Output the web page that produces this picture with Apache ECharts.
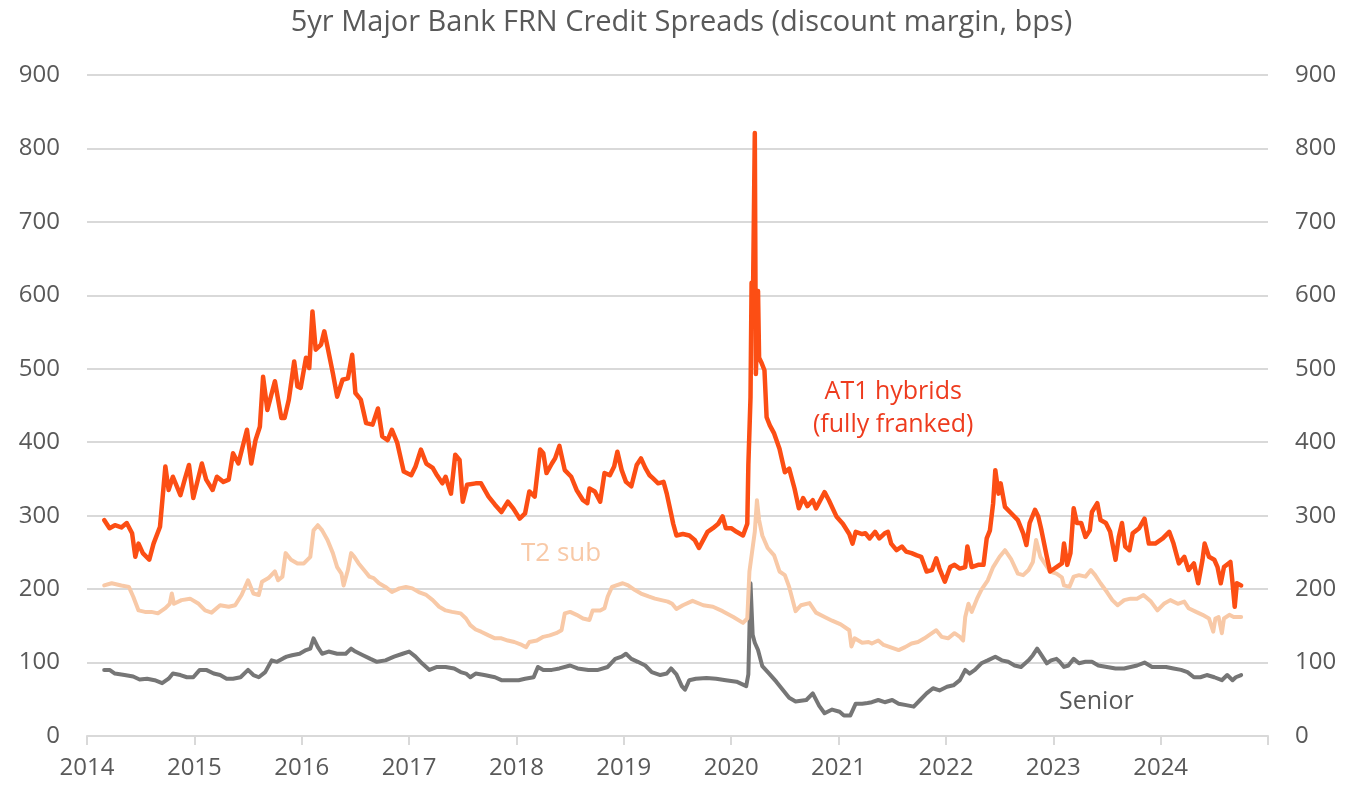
<!DOCTYPE html>
<html>
<head>
<meta charset="utf-8">
<title>5yr Major Bank FRN Credit Spreads</title>
<script src="https://cdn.jsdelivr.net/npm/echarts@6/dist/echarts.min.js"></script>
<style>
  html, body { margin: 0; padding: 0; background: #fff; }
  #chart { width: 1363px; height: 789px; }
</style>
</head>
<body>
<div id="chart"></div>
<script>
// x values are decimal years, y values are bps
const yearTicks = [2014, 2015, 2016, 2017, 2018, 2019, 2020, 2021, 2022, 2023, 2024]

const at1Hybrids = [
  [2014.16, 294], [2014.21, 283], [2014.26, 287], [2014.32, 284], [2014.37, 290], [2014.42, 276], [2014.45, 244], [2014.48, 262],
  [2014.52, 249], [2014.58, 240], [2014.62, 262], [2014.68, 285], [2014.73, 367], [2014.76, 335], [2014.80, 353], [2014.87, 328],
  [2014.91, 349], [2014.95, 369], [2014.99, 324], [2015.07, 371], [2015.11, 349], [2015.17, 335], [2015.21, 353], [2015.27, 346],
  [2015.32, 349], [2015.36, 385], [2015.41, 371], [2015.49, 417], [2015.53, 371], [2015.57, 403], [2015.61, 421], [2015.64, 489],
  [2015.68, 444], [2015.75, 483], [2015.81, 433], [2015.84, 433], [2015.88, 458], [2015.93, 510], [2015.96, 476], [2015.99, 474],
  [2016.04, 515], [2016.07, 501], [2016.10, 578], [2016.13, 526], [2016.18, 533], [2016.21, 551], [2016.24, 530], [2016.29, 494],
  [2016.33, 462], [2016.38, 485], [2016.43, 487], [2016.47, 519], [2016.50, 467], [2016.55, 458], [2016.60, 426], [2016.66, 424],
  [2016.71, 446], [2016.75, 408], [2016.80, 403], [2016.84, 417], [2016.89, 399], [2016.95, 360], [2017.02, 355], [2017.06, 367],
  [2017.11, 390], [2017.16, 371], [2017.22, 365], [2017.26, 355], [2017.31, 344], [2017.34, 353], [2017.39, 330], [2017.43, 383],
  [2017.47, 376], [2017.50, 319], [2017.54, 342], [2017.62, 344], [2017.67, 344], [2017.74, 326], [2017.80, 315], [2017.86, 305],
  [2017.92, 319], [2017.97, 310], [2018.03, 296], [2018.08, 303], [2018.12, 333], [2018.17, 326], [2018.22, 390], [2018.25, 385],
  [2018.28, 358], [2018.33, 371], [2018.36, 378], [2018.40, 395], [2018.45, 362], [2018.51, 353], [2018.56, 335], [2018.62, 321],
  [2018.66, 317], [2018.68, 337], [2018.73, 333], [2018.78, 319], [2018.82, 358], [2018.87, 355], [2018.91, 367], [2018.94, 387],
  [2018.98, 362], [2019.02, 346], [2019.07, 340], [2019.12, 369], [2019.16, 378], [2019.20, 365], [2019.24, 355], [2019.27, 351],
  [2019.32, 344], [2019.37, 346], [2019.40, 330], [2019.44, 303], [2019.46, 289], [2019.49, 273], [2019.55, 275], [2019.61, 273],
  [2019.66, 267], [2019.70, 256], [2019.74, 267], [2019.78, 278], [2019.83, 283], [2019.88, 289], [2019.92, 299], [2019.95, 283],
  [2020.00, 283], [2020.05, 278], [2020.11, 273], [2020.15, 289], [2020.16, 369], [2020.18, 461], [2020.19, 617], [2020.20, 557],
  [2020.22, 821], [2020.23, 493], [2020.25, 606], [2020.26, 515], [2020.28, 509], [2020.31, 498], [2020.33, 434], [2020.36, 423],
  [2020.40, 412], [2020.45, 391], [2020.50, 359], [2020.54, 364], [2020.59, 337], [2020.63, 310], [2020.67, 324], [2020.71, 313],
  [2020.76, 321], [2020.79, 310], [2020.87, 332], [2020.91, 321], [2020.98, 299], [2021.04, 289], [2021.10, 275], [2021.13, 262],
  [2021.16, 278], [2021.22, 275], [2021.25, 276], [2021.29, 269], [2021.34, 278], [2021.38, 269], [2021.43, 276], [2021.46, 278],
  [2021.49, 262], [2021.54, 253], [2021.59, 258], [2021.63, 251], [2021.68, 249], [2021.73, 246], [2021.77, 244], [2021.82, 224],
  [2021.87, 226], [2021.91, 242], [2021.94, 228], [2021.99, 210], [2022.04, 230], [2022.08, 233], [2022.13, 228], [2022.18, 230],
  [2022.20, 258], [2022.24, 230], [2022.30, 233], [2022.35, 233], [2022.38, 269], [2022.41, 280], [2022.44, 317], [2022.46, 362],
  [2022.49, 330], [2022.51, 344], [2022.55, 312], [2022.61, 303], [2022.67, 294], [2022.72, 276], [2022.75, 260], [2022.78, 290],
  [2022.83, 308], [2022.86, 299], [2022.89, 280], [2022.94, 244], [2022.97, 224], [2023.03, 230], [2023.08, 235], [2023.10, 262],
  [2023.13, 233], [2023.16, 249], [2023.19, 310], [2023.22, 290], [2023.26, 290], [2023.30, 271], [2023.34, 280], [2023.36, 305],
  [2023.41, 317], [2023.44, 294], [2023.49, 290], [2023.53, 278], [2023.58, 240], [2023.61, 271], [2023.64, 290], [2023.67, 258],
  [2023.71, 253], [2023.74, 276], [2023.80, 283], [2023.85, 296], [2023.89, 262], [2023.95, 262], [2024.02, 269], [2024.08, 278],
  [2024.12, 262], [2024.17, 235], [2024.22, 244], [2024.26, 226], [2024.31, 235], [2024.35, 208], [2024.39, 240], [2024.41, 262],
  [2024.45, 244], [2024.50, 240], [2024.53, 230], [2024.56, 208], [2024.59, 230], [2024.65, 237], [2024.67, 208], [2024.69, 176],
  [2024.71, 208], [2024.75, 205]
]

const t2Sub = [
  [2014.16, 205], [2014.23, 208], [2014.32, 205], [2014.39, 203], [2014.43, 190], [2014.48, 171], [2014.54, 169], [2014.60, 169],
  [2014.66, 167], [2014.73, 174], [2014.77, 180], [2014.79, 194], [2014.81, 180], [2014.88, 185], [2014.96, 187], [2015.04, 180],
  [2015.10, 171], [2015.16, 168], [2015.24, 178], [2015.32, 176], [2015.38, 178], [2015.44, 192], [2015.50, 212], [2015.55, 194],
  [2015.60, 192], [2015.63, 210], [2015.69, 215], [2015.75, 224], [2015.78, 212], [2015.82, 217], [2015.85, 249], [2015.90, 240],
  [2015.96, 235], [2016.02, 235], [2016.08, 244], [2016.11, 280], [2016.15, 287], [2016.19, 280], [2016.24, 267], [2016.29, 249],
  [2016.33, 230], [2016.37, 221], [2016.39, 205], [2016.43, 226], [2016.46, 249], [2016.49, 244], [2016.53, 235], [2016.58, 226],
  [2016.63, 217], [2016.67, 215], [2016.72, 208], [2016.78, 203], [2016.84, 196], [2016.91, 201], [2016.97, 203], [2017.03, 201],
  [2017.09, 196], [2017.16, 192], [2017.22, 185], [2017.28, 176], [2017.34, 171], [2017.40, 169], [2017.48, 167], [2017.53, 160],
  [2017.57, 151], [2017.62, 145], [2017.67, 142], [2017.74, 137], [2017.80, 133], [2017.86, 133], [2017.92, 130], [2017.98, 128],
  [2018.05, 124], [2018.09, 121], [2018.12, 128], [2018.19, 130], [2018.25, 135], [2018.31, 137], [2018.37, 140], [2018.42, 144],
  [2018.45, 167], [2018.50, 169], [2018.56, 165], [2018.62, 160], [2018.68, 158], [2018.71, 171], [2018.78, 171], [2018.82, 174],
  [2018.85, 190], [2018.89, 203], [2018.93, 205], [2018.99, 208], [2019.04, 205], [2019.10, 199], [2019.16, 194], [2019.23, 190],
  [2019.29, 187], [2019.35, 185], [2019.41, 183], [2019.45, 180], [2019.49, 173], [2019.55, 178], [2019.64, 184], [2019.74, 178],
  [2019.83, 176], [2019.92, 170], [2020.02, 162], [2020.11, 154], [2020.15, 160], [2020.17, 224], [2020.22, 278], [2020.24, 321],
  [2020.26, 294], [2020.29, 273], [2020.34, 256], [2020.40, 246], [2020.45, 224], [2020.50, 219], [2020.54, 203], [2020.60, 170],
  [2020.65, 178], [2020.73, 181], [2020.79, 168], [2020.87, 162], [2020.94, 157], [2021.02, 152], [2021.10, 144], [2021.12, 122],
  [2021.15, 133], [2021.22, 127], [2021.28, 128], [2021.31, 126], [2021.37, 130], [2021.42, 124], [2021.48, 121], [2021.56, 117],
  [2021.62, 121], [2021.68, 126], [2021.74, 128], [2021.80, 133], [2021.87, 140], [2021.91, 144], [2021.96, 135], [2022.02, 133],
  [2022.08, 140], [2022.13, 135], [2022.16, 130], [2022.18, 162], [2022.21, 180], [2022.24, 169], [2022.29, 187], [2022.33, 199],
  [2022.39, 212], [2022.44, 230], [2022.50, 244], [2022.55, 253], [2022.61, 240], [2022.67, 221], [2022.72, 219], [2022.77, 226],
  [2022.81, 237], [2022.84, 267], [2022.88, 244], [2022.92, 235], [2022.97, 224], [2023.03, 221], [2023.08, 216], [2023.10, 205],
  [2023.15, 203], [2023.19, 217], [2023.24, 219], [2023.30, 217], [2023.35, 226], [2023.39, 219], [2023.44, 208], [2023.50, 196],
  [2023.55, 185], [2023.60, 178], [2023.66, 185], [2023.72, 187], [2023.78, 187], [2023.84, 192], [2023.91, 183], [2023.97, 171],
  [2024.03, 180], [2024.09, 185], [2024.16, 180], [2024.22, 183], [2024.26, 174], [2024.33, 169], [2024.39, 165], [2024.45, 160],
  [2024.49, 142], [2024.51, 160], [2024.54, 162], [2024.57, 140], [2024.59, 160], [2024.64, 165], [2024.68, 162], [2024.75, 162]
]

const senior = [
  [2014.16, 90], [2014.21, 90], [2014.26, 85], [2014.35, 83], [2014.43, 81], [2014.49, 77], [2014.56, 78], [2014.63, 76],
  [2014.70, 72], [2014.76, 78], [2014.80, 85], [2014.87, 83], [2014.93, 80], [2014.99, 80], [2015.05, 90], [2015.11, 90],
  [2015.18, 85], [2015.24, 83], [2015.30, 78], [2015.36, 78], [2015.43, 80], [2015.50, 90], [2015.55, 83], [2015.60, 80],
  [2015.66, 87], [2015.72, 103], [2015.77, 101], [2015.83, 106], [2015.86, 108], [2015.91, 110], [2015.98, 112], [2016.04, 117],
  [2016.08, 119], [2016.11, 133], [2016.15, 121], [2016.19, 112], [2016.25, 115], [2016.33, 112], [2016.41, 112], [2016.46, 119],
  [2016.50, 115], [2016.57, 110], [2016.64, 105], [2016.70, 101], [2016.78, 103], [2016.86, 108], [2016.94, 112], [2017.00, 115],
  [2017.06, 108], [2017.12, 99], [2017.19, 90], [2017.26, 94], [2017.34, 94], [2017.42, 92], [2017.48, 87], [2017.53, 85],
  [2017.57, 80], [2017.62, 85], [2017.70, 83], [2017.80, 80], [2017.86, 76], [2017.92, 76], [2018.02, 76], [2018.08, 78],
  [2018.16, 80], [2018.20, 94], [2018.25, 90], [2018.33, 90], [2018.40, 92], [2018.50, 96], [2018.57, 92], [2018.67, 90],
  [2018.76, 90], [2018.85, 94], [2018.92, 105], [2018.98, 108], [2019.02, 112], [2019.07, 105], [2019.13, 101], [2019.20, 96],
  [2019.26, 87], [2019.34, 83], [2019.40, 85], [2019.44, 92], [2019.49, 84], [2019.54, 68], [2019.57, 63], [2019.61, 76],
  [2019.67, 78], [2019.77, 79], [2019.86, 78], [2019.95, 76], [2020.05, 74], [2020.14, 68], [2020.16, 84], [2020.18, 208],
  [2020.20, 138], [2020.22, 127], [2020.25, 117], [2020.29, 95], [2020.36, 84], [2020.42, 74], [2020.48, 63], [2020.54, 52],
  [2020.60, 47], [2020.70, 49], [2020.76, 58], [2020.82, 41], [2020.87, 31], [2020.94, 36], [2021.01, 33], [2021.05, 28],
  [2021.11, 28], [2021.16, 44], [2021.22, 44], [2021.27, 45], [2021.31, 46], [2021.37, 49], [2021.43, 46], [2021.50, 49],
  [2021.56, 44], [2021.63, 42], [2021.70, 40], [2021.76, 49], [2021.82, 58], [2021.88, 65], [2021.94, 62], [2022.01, 67],
  [2022.07, 69], [2022.13, 76], [2022.18, 90], [2022.22, 85], [2022.27, 90], [2022.33, 99], [2022.39, 103], [2022.46, 108],
  [2022.52, 103], [2022.58, 101], [2022.64, 96], [2022.70, 94], [2022.77, 103], [2022.81, 110], [2022.85, 119], [2022.89, 110],
  [2022.94, 99], [2022.98, 103], [2023.03, 105], [2023.06, 101], [2023.10, 94], [2023.14, 96], [2023.19, 105], [2023.24, 99],
  [2023.30, 101], [2023.36, 101], [2023.42, 96], [2023.50, 94], [2023.58, 92], [2023.66, 92], [2023.72, 94], [2023.78, 96],
  [2023.85, 100], [2023.92, 94], [2023.98, 94], [2024.05, 94], [2024.12, 92], [2024.19, 90], [2024.25, 87], [2024.31, 80],
  [2024.37, 80], [2024.43, 83], [2024.50, 80], [2024.57, 76], [2024.62, 83], [2024.67, 76], [2024.70, 80], [2024.75, 83]
]

const chartTitle = '5yr Major Bank FRN Credit Spreads (discount margin, bps)'

let fontName = '"Open Sans", Lato, sans-serif'
let textGrey = '#595959'
let gridGrey = '#d9d9d9'

let chart = echarts.init(document.getElementById('chart'))

let yAxisBase = function (pos) {
  return {
    type: 'value',
    position: pos,
    min: 0,
    max: 900,
    interval: 100,
    axisLine: { show: false },
    axisTick: { show: false },
    axisLabel: { color: textGrey, fontSize: 24, fontFamily: fontName, margin: 27 },
    splitLine: { show: pos === 'left', lineStyle: { color: gridGrey, width: 2 } }
  }
}

let lineSeries = function (name, data, color, width, z) {
  return {
    name: name,
    type: 'line',
    data: data,
    showSymbol: false,
    symbol: 'none',
    z: z,
    lineStyle: { color: color, width: width, join: 'round', cap: 'round' },
    itemStyle: { color: color }
  }
}

chart.setOption({
  animation: false,
  backgroundColor: '#fff',
  title: {
    text: chartTitle,
    left: 'center',
    top: 3,
    textStyle: { color: textGrey, fontSize: 29, fontWeight: 'normal', fontFamily: fontName }
  },
  grid: { left: 87, right: 95, top: 75, bottom: 53 },
  xAxis: {
    type: 'value',
    min: yearTicks[0],
    max: yearTicks[yearTicks.length - 1] + 1,
    interval: 1,
    axisLine: { show: true, lineStyle: { color: gridGrey, width: 2 } },
    axisTick: { show: true, length: 9, lineStyle: { color: gridGrey, width: 2 } },
    axisLabel: {
      color: textGrey,
      fontSize: 24,
      fontFamily: fontName,
      margin: 20,
      formatter: function (v) {
        return yearTicks.indexOf(v) >= 0 ? String(v) : ''
      }
    },
    splitLine: { show: false }
  },
  yAxis: [yAxisBase('left'), yAxisBase('right')],
  series: [
    lineSeries('Senior', senior, '#767676', 4, 2),
    lineSeries('T2 sub', t2Sub, '#f8c9a7', 4, 3),
    lineSeries('AT1 hybrids', at1Hybrids, '#fc4e14', 4.5, 4)
  ],
  graphic: [
    {
      type: 'text',
      left: 813,
      top: 375,
      style: {
        text: 'AT1 hybrids\n(fully franked)',
        fill: '#ee3b1e',
        font: '25px ' + fontName,
        textAlign: 'center',
        lineHeight: 33
      }
    },
    {
      type: 'text',
      left: 521,
      top: 541,
      style: { text: 'T2 sub', fill: '#f8c9a7', font: '26px ' + fontName }
    },
    {
      type: 'text',
      left: 1059,
      top: 689,
      style: { text: 'Senior', fill: textGrey, font: '25px ' + fontName }
    }
  ]
})
</script>
</body>
</html>
